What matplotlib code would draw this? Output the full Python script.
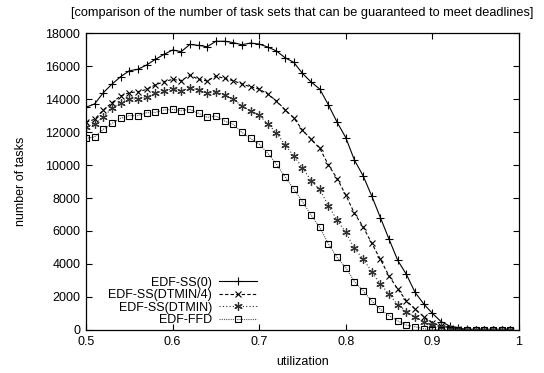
import numpy as np
import matplotlib
matplotlib.use("Agg")
import matplotlib.pyplot as plt

plt.rcParams['font.family'] = ['Liberation Sans', 'DejaVu Sans']

# utilization steps 0.50 .. 0.99
util = [round(0.5 + 0.01 * i, 2) for i in range(50)]

ss0 = [13500, 13700, 14380, 14900, 15350, 15710, 15800, 16060, 16400, 16700,
       16970, 16870, 17310, 17250, 17170, 17500, 17500, 17420, 17290, 17390,
       17330, 17150, 16910, 16500, 16220, 15550, 15030, 14600, 13640, 12590,
       11660, 10300, 9350, 8120, 6810, 5500, 4220, 3370, 2280, 1580,
       1010, 510, 240, 100, 40, 0, 0, 0, 0, 0]
ss_dtmin4 = [12590, 12770, 13330, 13770, 14180, 14380, 14440, 14580, 14850, 15050,
             15190, 15110, 15450, 15190, 15090, 15390, 15250, 15110, 14910, 14740,
             14600, 14300, 13880, 13350, 12850, 12120, 11550, 11010, 10000, 9180,
             8180, 7070, 6260, 5250, 4280, 3270, 2480, 1780, 1270, 810,
             440, 240, 140, 60, 20, 0, 0, 0, 0, 0]
ss_dtmin = [12320, 12480, 12930, 13430, 13780, 14000, 14000, 14100, 14340, 14500,
            14600, 14480, 14680, 14540, 14340, 14440, 14240, 13980, 13590, 13270,
            13030, 12480, 11960, 11210, 10550, 9840, 9050, 8520, 7530, 6660,
            5920, 4950, 4300, 3530, 2770, 2180, 1530, 1110, 810, 510,
            300, 160, 60, 20, 0, 0, 0, 0, 0, 0]
ffd = [11610, 11710, 12160, 12520, 12830, 12990, 12990, 13170, 13190, 13330,
       13370, 13290, 13370, 13130, 12890, 12970, 12670, 12470, 11980, 11610,
       11270, 10710, 10040, 9270, 8540, 7770, 6960, 6220, 5210, 4400,
       3780, 2930, 2380, 1760, 1250, 870, 550, 300, 200, 80,
       20, 0, 0, 0, 0, 0, 0, 0, 0, 0]

fig = plt.figure(figsize=(5.44, 3.73), dpi=100)
ax = fig.add_axes([0.158, 0.1153, 0.796, 0.7962])

ax.plot(util, ss0, color="black", lw=0.8, ls="-", marker="+", ms=6, mew=0.8,
        label="EDF-SS(0)")
ax.plot(util, ss_dtmin4, color="black", lw=0.8, ls=(0, (3, 2)), marker="x", ms=5,
        mew=0.8, label="EDF-SS(DTMIN/4)")
ax.plot(util, ss_dtmin, color="#333333", lw=0.8, ls=(0, (1, 2)), marker=(6, 2, 0),
        ms=6, mew=0.9, label="EDF-SS(DTMIN)")
ax.plot(util, ffd, color="#555555", lw=0.8, ls=(0, (1, 1)), marker="s", ms=5,
        mfc="none", mec="black", mew=0.8, label="EDF-FFD")

ax.set_xlim(0.5, 1.0)
ax.set_ylim(0, 18000)
ax.set_xticks([0.5, 0.6, 0.7, 0.8, 0.9, 1.0])
ax.set_xticklabels(["0.5", "0.6", "0.7", "0.8", "0.9", "1"])
ax.set_yticks(range(0, 18001, 2000))
ax.tick_params(direction="in", top=True, right=True, labelsize=9, length=4, width=0.8,
               pad=4)
for s in ax.spines.values():
    s.set_linewidth(0.9)

ax.set_xlabel("utilization", fontsize=9, labelpad=6)
ax.set_ylabel("number of tasks", fontsize=9, labelpad=13)
fig.text(0.98, 0.965, "[comparison of the number of task sets that can be guaranteed to meet deadlines]",
         ha="right", va="center", fontsize=9.2)

leg = ax.legend(loc="lower right", bbox_to_anchor=(0.395, 0.012), frameon=False,
                markerfirst=False, fontsize=9, handlelength=3.0, labelspacing=0.05,
                handletextpad=0.6, borderaxespad=0.0, borderpad=0.0)

fig.savefig("out.png", dpi=100)
